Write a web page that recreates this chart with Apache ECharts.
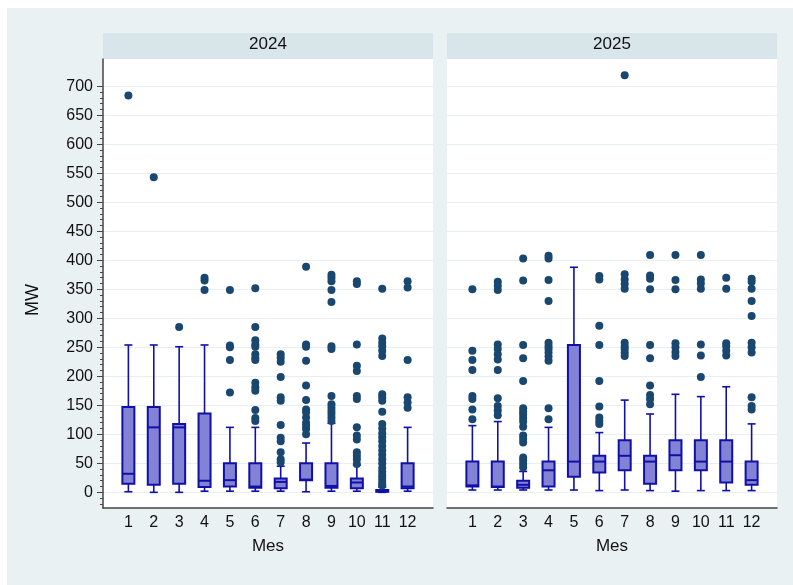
<!DOCTYPE html>
<html>
<head>
<meta charset="utf-8">
<script src="https://cdn.jsdelivr.net/npm/echarts@6/dist/echarts.min.js"></script>
<style>
  html, body { margin: 0; padding: 0; background: #fff; }
  #chart { width: 793px; height: 585px; }
</style>
</head>
<body>
<div id="chart"></div>
<script>
  const years = ['2024', '2025']
  const months = ['1', '2', '3', '4', '5', '6', '7', '8', '9', '10', '11', '12']
  const majorTicks = [0, 50, 100, 150, 200, 250, 300, 350, 400, 450, 500, 550, 600, 650, 700]
  const minorTicks = [-20, -10, 0, 10, 20, 30, 40, 50, 60, 70, 80, 90, 100, 110, 120, 130, 140, 150, 160, 170, 180, 190, 200,
    210, 220, 230, 240, 250, 260, 270, 280, 290, 300, 310, 320, 330, 340, 350, 360, 370, 380, 390, 400, 410, 420, 430, 440,
    450, 460, 470, 480, 490, 500, 510, 520, 530, 540, 550, 560, 570, 580, 590, 600, 610, 620, 630, 640, 650, 660, 670, 680, 690, 700]

  // [lower whisker, Q1, median, Q3, upper whisker] per month
  const box2024 = [
    [1, 15, 32, 147, 254],
    [0, 13, 112, 147, 254],
    [0, 15, 112, 118, 251],
    [2, 9, 20, 136, 254],
    [2, 10, 21, 50, 112],
    [2, 8, 10, 50, 112],
    [2, 7, 18, 24, 45],
    [1, 21, 22, 50, 85],
    [2, 8, 11, 50, 119],
    [2, 7, 17, 24, 47],
    [0, 1, 2, 4, 9],
    [2, 7, 10, 50, 112],
  ]
  const box2025 = [
    [4, 10, 12, 53, 115],
    [4, 9, 10, 53, 122],
    [4, 8, 13, 20, 36],
    [4, 10, 38, 53, 112],
    [4, 27, 53, 254, 388],
    [3, 34, 53, 63, 103],
    [4, 38, 63, 90, 159],
    [3, 15, 53, 63, 135],
    [2, 38, 64, 90, 169],
    [3, 38, 53, 90, 165],
    [3, 17, 53, 90, 182],
    [3, 13, 21, 53, 118],
  ]

  // outside values per month
  const out2024 = [
    [684],
    [543],
    [285],
    [370, 365, 349],
    [349, 253, 250, 228, 172],
    [352, 285, 262, 255, 251, 238, 232, 228, 189, 181, 175, 142, 128, 123],
    [238, 232, 225, 199, 164, 158, 116, 94, 88, 69, 57, 52],
    [389, 255, 251, 227, 184, 159, 143, 138, 129, 120, 115, 109, 100],
    [375, 370, 364, 349, 328, 252, 247, 166, 152, 146, 140, 135, 129, 123],
    [364, 359, 255, 218, 209, 166, 161, 112, 98, 91, 69, 63, 57, 49],
    [351, 265, 258, 252, 244, 235, 169, 164, 158, 139, 118, 110, 102, 95, 88, 80, 72, 65, 57, 50, 42, 36, 30, 25, 20, 15, 12],
    [364, 353, 228, 164, 155, 146],
  ]
  const out2025 = [
    [350, 244, 228, 211, 166, 161, 143, 126],
    [363, 356, 349, 255, 247, 238, 229, 211, 162, 149, 141, 133],
    [403, 365, 254, 231, 192, 145, 139, 134, 128, 122, 113, 98, 92, 86, 60, 55, 49, 43],
    [408, 403, 366, 330, 258, 252, 247, 241, 234, 227, 145, 126],
    [],
    [373, 367, 287, 254, 192, 148, 129, 123, 118],
    [719, 376, 367, 359, 351, 258, 252, 247, 241, 235],
    [409, 374, 368, 350, 254, 231, 184, 168, 161, 152],
    [409, 366, 350, 257, 250, 242, 235],
    [409, 367, 360, 351, 255, 236, 199],
    [370, 351, 257, 252, 244, 236],
    [368, 363, 351, 330, 304, 258, 250, 241, 164, 149, 143],
  ]

  const font = "'Liberation Sans', Arial, Helvetica, sans-serif"
  const boxFill = '#8383d6'
  const boxLine = '#1010a8'
  const dotColor = '#1a476f'
  const axisColor = '#444'
  const gridColor = '#e8eff2'

  function boxRows(stats) {
    return stats.map((s, i) => [i + 1, ...s])
  }
  function outRows(outs) {
    const rows = []
    outs.forEach((vals, i) => vals.forEach((v) => rows.push([i + 1, v])))
    return rows
  }

  function renderBox(params, api) {
    const x = api.value(0)
    const lo = api.coord([x, api.value(1)])
    const q1 = api.coord([x, api.value(2)])
    const md = api.coord([x, api.value(3)])
    const q3 = api.coord([x, api.value(4)])
    const hi = api.coord([x, api.value(5)])
    const cx = lo[0]
    const bw = 6
    const cw = 4
    const wStyle = { stroke: boxLine, lineWidth: 1.6 }
    return {
      type: 'group',
      children: [
        { type: 'line', shape: { x1: cx, y1: hi[1], x2: cx, y2: q3[1] }, style: wStyle },
        { type: 'line', shape: { x1: cx, y1: q1[1], x2: cx, y2: lo[1] }, style: wStyle },
        { type: 'line', shape: { x1: cx - cw, y1: hi[1], x2: cx + cw, y2: hi[1] }, style: wStyle },
        { type: 'line', shape: { x1: cx - cw, y1: lo[1], x2: cx + cw, y2: lo[1] }, style: wStyle },
        {
          type: 'rect',
          shape: { x: cx - bw, y: q3[1], width: bw * 2, height: q1[1] - q3[1] },
          style: { fill: boxFill, stroke: boxLine, lineWidth: 2 },
        },
        { type: 'line', shape: { x1: cx - bw, y1: md[1], x2: cx + bw, y2: md[1] }, style: { stroke: boxLine, lineWidth: 2 } },
      ],
    }
  }

  const yMin = -27
  const yMax = 747

  function xAxis(gridIndex) {
    return {
      type: 'value',
      gridIndex,
      min: 0,
      max: 13,
      interval: 1,
      name: 'Mes',
      nameLocation: 'middle',
      nameGap: 30,
      nameTextStyle: { fontFamily: font, fontSize: 17, color: '#111' },
      axisLine: { show: true, onZero: false, lineStyle: { color: axisColor, width: 1.5 } },
      axisTick: { show: false },
      axisLabel: {
        fontFamily: font,
        fontSize: 16,
        color: '#111',
        margin: 7,
        formatter: (v) => months[v - 1] || '',
      },
      splitLine: { show: false },
    }
  }

  const chart = echarts.init(document.getElementById('chart'))
  chart.setOption({
    animation: false,
    backgroundColor: '#fff',
    graphic: [
      { type: 'rect', shape: { x: 7, y: 8, width: 786, height: 577 }, style: { fill: '#e9f1f3' }, z: -10 },
      { type: 'rect', shape: { x: 103, y: 33, width: 330, height: 26 }, style: { fill: '#d8e5eb' } },
      { type: 'rect', shape: { x: 447, y: 33, width: 330, height: 26 }, style: { fill: '#d8e5eb' } },
      {
        type: 'text', x: 268, y: 44,
        style: { text: years[0], fontFamily: font, fontSize: 17, fill: '#111', align: 'center', verticalAlign: 'middle' },
      },
      {
        type: 'text', x: 612, y: 44,
        style: { text: years[1], fontFamily: font, fontSize: 17, fill: '#111', align: 'center', verticalAlign: 'middle' },
      },
      {
        type: 'text', x: 33, y: 300, rotation: Math.PI / 2,
        style: { text: 'MW', fontFamily: font, fontSize: 18, fill: '#111', align: 'center', verticalAlign: 'middle' },
      },
    ],
    grid: [
      { left: 103, top: 59, width: 330, height: 449, show: true, backgroundColor: '#fff', borderWidth: 0 },
      { left: 447, top: 59, width: 330, height: 449, show: true, backgroundColor: '#fff', borderWidth: 0 },
    ],
    xAxis: [xAxis(0), xAxis(1)],
    yAxis: [
      {
        type: 'value',
        gridIndex: 0,
        position: 'left',
        min: yMin,
        max: yMax,
        axisLine: { show: true, lineStyle: { color: axisColor, width: 1.5 } },
        axisTick: { show: true, length: 6, customValues: majorTicks, lineStyle: { color: axisColor } },
        axisLabel: { fontFamily: font, fontSize: 16, color: '#111', margin: 10, customValues: majorTicks },
        splitLine: { show: true, lineStyle: { color: gridColor, width: 1.2 } },
      },
      {
        type: 'value',
        gridIndex: 0,
        position: 'left',
        offset: 0,
        min: yMin,
        max: yMax,
        axisLine: { show: false },
        axisTick: { show: true, length: 3, customValues: minorTicks, lineStyle: { color: axisColor } },
        axisLabel: { show: false },
        splitLine: { show: false },
      },
      {
        type: 'value',
        gridIndex: 1,
        min: yMin,
        max: yMax,
        axisLine: { show: false },
        axisTick: { show: false, customValues: majorTicks },
        axisLabel: { show: false, customValues: majorTicks },
        splitLine: { show: true, lineStyle: { color: gridColor, width: 1.2 } },
      },
    ],
    series: [
      {
        type: 'custom', xAxisIndex: 0, yAxisIndex: 0, renderItem: renderBox,
        encode: { x: 0, y: [1, 2, 3, 4, 5] }, data: boxRows(box2024), z: 2,
      },
      {
        type: 'custom', xAxisIndex: 1, yAxisIndex: 2, renderItem: renderBox,
        encode: { x: 0, y: [1, 2, 3, 4, 5] }, data: boxRows(box2025), z: 2,
      },
      {
        type: 'scatter', xAxisIndex: 0, yAxisIndex: 0, symbolSize: 8,
        itemStyle: { color: dotColor, opacity: 1 }, data: outRows(out2024), z: 3,
      },
      {
        type: 'scatter', xAxisIndex: 1, yAxisIndex: 2, symbolSize: 8,
        itemStyle: { color: dotColor, opacity: 1 }, data: outRows(out2025), z: 3,
      },
    ],
  })
</script>
</body>
</html>
